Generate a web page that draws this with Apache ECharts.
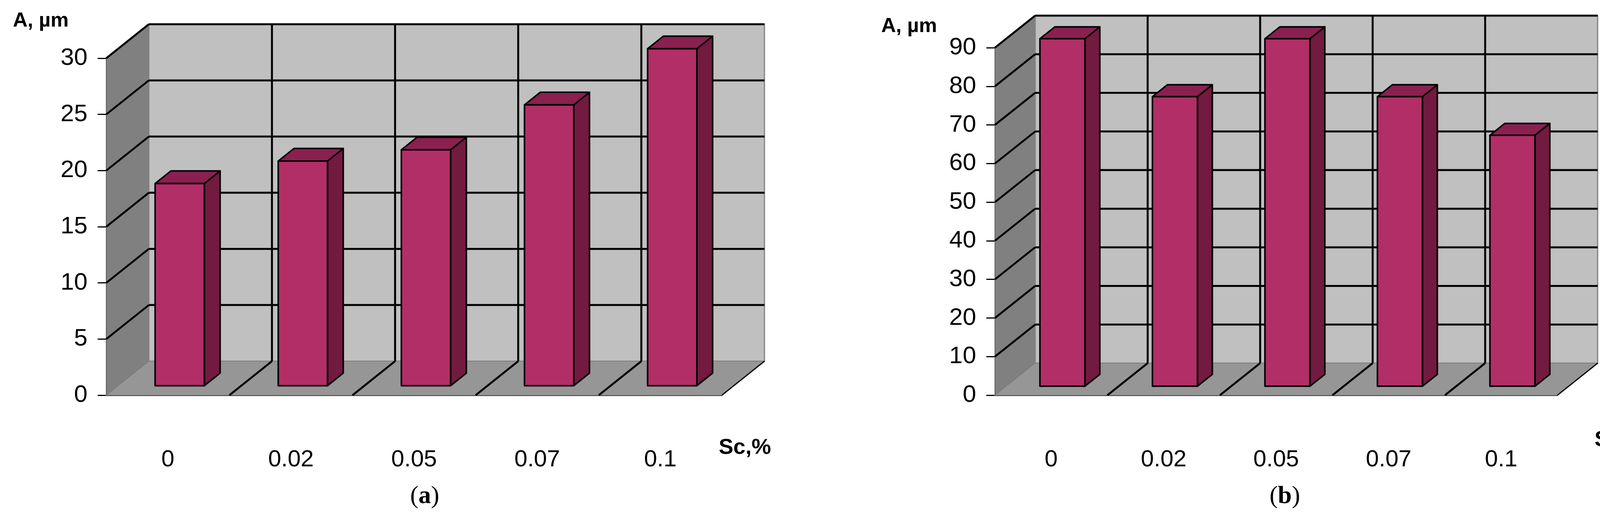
<!DOCTYPE html>
<html><head><meta charset="utf-8">
<script src="https://cdn.jsdelivr.net/npm/echarts@6/dist/echarts.min.js"></script>
<style>html,body{margin:0;background:#fff}#c{width:4262px;height:1320px}</style>
</head><body><div id="c"></div>
<script>
const categories = ['0', '0.02', '0.05', '0.07', '0.1'];
const valuesA = [18, 20, 21, 25, 30];
const valuesB = [90, 75, 90, 75, 65];
const yMaxA = 30, yStepA = 5;
const yMaxB = 90, yStepB = 10;

const FONT = '"Liberation Sans Narrow", "Arial Narrow", "Liberation Sans", sans-serif';
const DEPTH = [{dx:109, dy:-87}, {dx:103, dy:-82}];
const LW = 5;

function frameItem(depth, yMax, yStep) {
  return function (params, api) {
    const cs = params.coordSys;
    const x0 = cs.x, x1 = cs.x + cs.width;
    const y0 = api.coord([0, 0])[1], yT = api.coord([0, yMax])[1];
    const dx = depth.dx, dy = depth.dy;
    const cw = api.size([1, 0])[0];
    const ch = [];
    ch.push({type:'polygon', shape:{points:[[x0,yT],[x0,y0],[x0+dx,y0+dy],[x0+dx,yT+dy]]}, style:{fill:'#808080', stroke:'#606060', lineWidth:2}});
    ch.push({type:'rect', shape:{x:x0+dx, y:yT+dy, width:cs.width, height:y0-yT}, style:{fill:'#c0c0c0', stroke:'#808080', lineWidth:3}});
    ch.push({type:'polygon', shape:{points:[[x0,y0],[x1,y0],[x1+dx,y0+dy],[x0+dx,y0+dy]]}, style:{fill:'#969696', stroke:'#808080', lineWidth:2}});
    for (let v = yStep; v <= yMax; v += yStep) {
      const y = api.coord([0, v])[1];
      ch.push({type:'line', shape:{x1:x0+dx, y1:y+dy, x2:x1+dx, y2:y+dy}, style:{stroke:'#000', lineWidth:LW}});
      ch.push({type:'line', shape:{x1:x0, y1:y, x2:x0+dx, y2:y+dy}, style:{stroke:'#000', lineWidth:LW}});
    }
    for (let i = 1; i < categories.length; i++) {
      const x = x0 + cw * i;
      ch.push({type:'line', shape:{x1:x+dx, y1:yT+dy, x2:x+dx, y2:y0+dy}, style:{stroke:'#000', lineWidth:LW}});
      ch.push({type:'line', shape:{x1:x, y1:y0, x2:x+dx, y2:y0+dy}, style:{stroke:'#000', lineWidth:LW}});
    }
    ch.push({type:'line', shape:{x1:x1, y1:y0, x2:x1+dx, y2:y0+dy}, style:{stroke:'#000', lineWidth:3}});
    return {type:'group', children:ch};
  };
}

function barItem(depth) {
  return function (params, api) {
    const idx = api.value(0), val = api.value(1);
    const top = api.coord([idx, val]), base = api.coord([idx, 0]);
    const cw = api.size([1, 0])[0];
    const w = cw * 0.40, f = 0.28, bd = 0.37;
    const ox = f * depth.dx, oy = f * depth.dy;
    const bx = depth.dx * bd, by = depth.dy * bd;
    const xl = top[0] - w / 2 + ox, xr = xl + w;
    const yt = top[1] + oy, yb = base[1] + oy;
    const st = {stroke:'#000', lineWidth:4, lineJoin:'round'};
    return {type:'group', children:[
      {type:'polygon', shape:{points:[[xr,yt],[xr+bx,yt+by],[xr+bx,yb+by],[xr,yb]]}, style:Object.assign({fill:'#721a40'}, st)},
      {type:'polygon', shape:{points:[[xl,yt],[xl+bx,yt+by],[xr+bx,yt+by],[xr,yt]]}, style:Object.assign({fill:'#8a2050'}, st)},
      {type:'rect', shape:{x:xl, y:yt, width:w, height:yb-yt}, style:Object.assign({fill:'#b22e67'}, st)}
    ]};
  };
}

function xAxisCfg(gi) {
  return {type:'category', gridIndex:gi, data:categories,
    axisLine:{lineStyle:{color:'#000', width:3}},
    axisTick:{length:22, lineStyle:{color:'#000', width:3}},
    axisLabel:{fontFamily:FONT, fontSize:60, color:'#000', margin:135}};
}
function yAxisCfg(gi, max, step) {
  return {type:'value', gridIndex:gi, min:0, max:max, interval:step,
    splitLine:{show:false},
    axisLine:{show:true, lineStyle:{color:'#000', width:3}},
    axisTick:{show:true, length:22, lineStyle:{color:'#000', width:3}},
    axisLabel:{fontFamily:FONT, fontSize:62, color:'#000', margin:48}};
}

const chart = echarts.init(document.getElementById('c'));
chart.setOption({
  animation:false,
  backgroundColor:'#fff',
  grid:[{left:272, right:4262-1848, top:149, bottom:309}, {left:2547, right:4262-3987, top:122, bottom:309}],
  xAxis:[xAxisCfg(0), xAxisCfg(1)],
  yAxis:[yAxisCfg(0, yMaxA, yStepA), yAxisCfg(1, yMaxB, yStepB)],
  series:[
    {type:'custom', xAxisIndex:0, yAxisIndex:0, z:1, renderItem:frameItem(DEPTH[0], yMaxA, yStepA), data:[[0,0]], silent:true},
    {type:'custom', xAxisIndex:0, yAxisIndex:0, z:2, renderItem:barItem(DEPTH[0]), data:valuesA.map((v,i)=>[i,v])},
    {type:'custom', xAxisIndex:1, yAxisIndex:1, z:1, renderItem:frameItem(DEPTH[1], yMaxB, yStepB), data:[[0,0]], silent:true},
    {type:'custom', xAxisIndex:1, yAxisIndex:1, z:2, renderItem:barItem(DEPTH[1]), data:valuesB.map((v,i)=>[i,v])}
  ],
  graphic:[
    {type:'text', left:33, top:28, style:{text:'A, µm', font:'bold 52px '+FONT, fill:'#000'}},
    {type:'text', left:2256, top:42, style:{text:'A, µm', font:'bold 52px '+FONT, fill:'#000'}},
    {type:'text', left:1840, top:1118, style:{text:'Sc,%', font:'bold 56px '+FONT, fill:'#000'}},
    {type:'text', left:4082, top:1098, style:{text:'Sc,%', font:'bold 56px '+FONT, fill:'#000'}},
    {type:'text', left:1050, top:1238, style:{rich:{p:{font:'64px "Liberation Serif", serif', fill:'#000'}, b:{font:'bold 64px "Liberation Serif", serif', fill:'#000'}}, text:'{p|(}{b|a}{p|)}'}},
    {type:'text', left:3250, top:1238, style:{rich:{p:{font:'64px "Liberation Serif", serif', fill:'#000'}, b:{font:'bold 64px "Liberation Serif", serif', fill:'#000'}}, text:'{p|(}{b|b}{p|)}'}}
  ]
});
</script></body></html>
